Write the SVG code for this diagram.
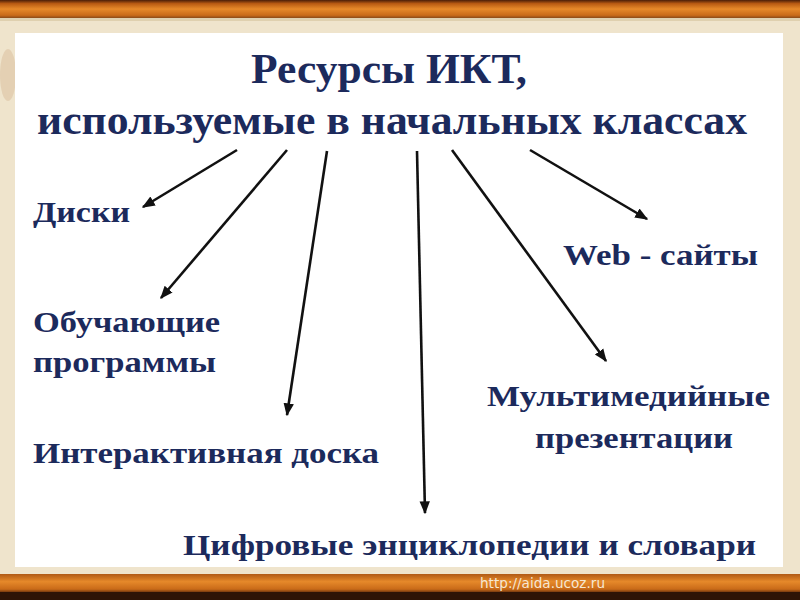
<svg xmlns="http://www.w3.org/2000/svg" width="800" height="600" viewBox="0 0 800 600">
  <defs>
    <linearGradient id="topBand" x1="0" y1="0" x2="0" y2="1">
      <stop offset="0" stop-color="#4a1e08"/>
      <stop offset="0.2" stop-color="#b85a12"/>
      <stop offset="0.5" stop-color="#e6892a"/>
      <stop offset="0.85" stop-color="#c96a18"/>
      <stop offset="1" stop-color="#8a4a18"/>
    </linearGradient>
    <linearGradient id="botBand" x1="0" y1="0" x2="0" y2="1">
      <stop offset="0" stop-color="#b05a16"/>
      <stop offset="0.4" stop-color="#e6892a"/>
      <stop offset="0.8" stop-color="#c96a18"/>
      <stop offset="1" stop-color="#5a2a0c"/>
    </linearGradient>
    <marker id="arrow" viewBox="0 0 10 10" refX="9" refY="5" markerWidth="5" markerHeight="5" markerUnits="strokeWidth" orient="auto">
      <path d="M0,1 L10,5 L0,9 Z" fill="#111"/>
    </marker>
    <style>
      .lbl { font-family: "Liberation Serif", "DejaVu Serif", serif; font-weight: bold; fill: #1c2a5c; }
      .title { font-size: 42px; }
      .node { font-size: 30px; }
      .conn line { stroke: #111; stroke-width: 2.6; fill: none; marker-end: url(#arrow); }
    </style>
  </defs>

  <!-- frame -->
  <rect x="0" y="0" width="800" height="600" fill="#efe4cc"/>
  <rect x="0" y="0" width="800" height="18" fill="url(#topBand)"/>
  <rect x="0" y="18" width="800" height="3" fill="#d9c7a2" opacity="0.7"/>
  <rect x="0" y="574" width="800" height="19" fill="url(#botBand)"/>
  <rect x="0" y="592" width="800" height="8" fill="#2e1406"/>
  <ellipse cx="8" cy="75" rx="8" ry="26" fill="#c9a27a" opacity="0.3"/>
  <rect x="15" y="33" width="768" height="534" fill="#ffffff"/>
  <text x="480" y="588" font-family="'DejaVu Sans', 'Liberation Sans', sans-serif" font-size="13.5" fill="#f6e7d2" textLength="125" lengthAdjust="spacingAndGlyphs">http://aida.ucoz.ru</text>

  <!-- title -->
  <g id="title">
    <text class="lbl title" x="251" y="83" textLength="276" lengthAdjust="spacingAndGlyphs">Ресурсы ИКТ,</text>
    <text class="lbl title" x="37" y="134" textLength="710" lengthAdjust="spacingAndGlyphs">используемые в начальных классах</text>
  </g>

  <!-- connectors -->
  <g id="connectors" class="conn">
    <line x1="237" y1="150" x2="143" y2="207"/>
    <line x1="287" y1="150" x2="161" y2="298"/>
    <line x1="327" y1="151" x2="287" y2="415"/>
    <line x1="417" y1="151" x2="425" y2="513"/>
    <line x1="452" y1="150" x2="606" y2="361"/>
    <line x1="530" y1="150" x2="647" y2="219"/>
  </g>

  <!-- nodes -->
  <g id="node-disks">
    <text class="lbl node" x="33" y="222" textLength="97" lengthAdjust="spacingAndGlyphs">Диски</text>
  </g>
  <g id="node-programs">
    <text class="lbl node" x="33" y="332" textLength="187" lengthAdjust="spacingAndGlyphs">Обучающие</text>
    <text class="lbl node" x="33" y="372" textLength="183" lengthAdjust="spacingAndGlyphs">программы</text>
  </g>
  <g id="node-board">
    <text class="lbl node" x="33" y="463" textLength="346" lengthAdjust="spacingAndGlyphs">Интерактивная доска</text>
  </g>
  <g id="node-encyclopedias">
    <text class="lbl node" x="183" y="555" textLength="573" lengthAdjust="spacingAndGlyphs">Цифровые энциклопедии и словари</text>
  </g>
  <g id="node-presentations">
    <text class="lbl node" x="487" y="406" textLength="283" lengthAdjust="spacingAndGlyphs">Мультимедийные</text>
    <text class="lbl node" x="535" y="448" textLength="198" lengthAdjust="spacingAndGlyphs">презентации</text>
  </g>
  <g id="node-web">
    <text class="lbl node" x="563" y="265" textLength="195" lengthAdjust="spacingAndGlyphs">Web - сайты</text>
  </g>
</svg>
